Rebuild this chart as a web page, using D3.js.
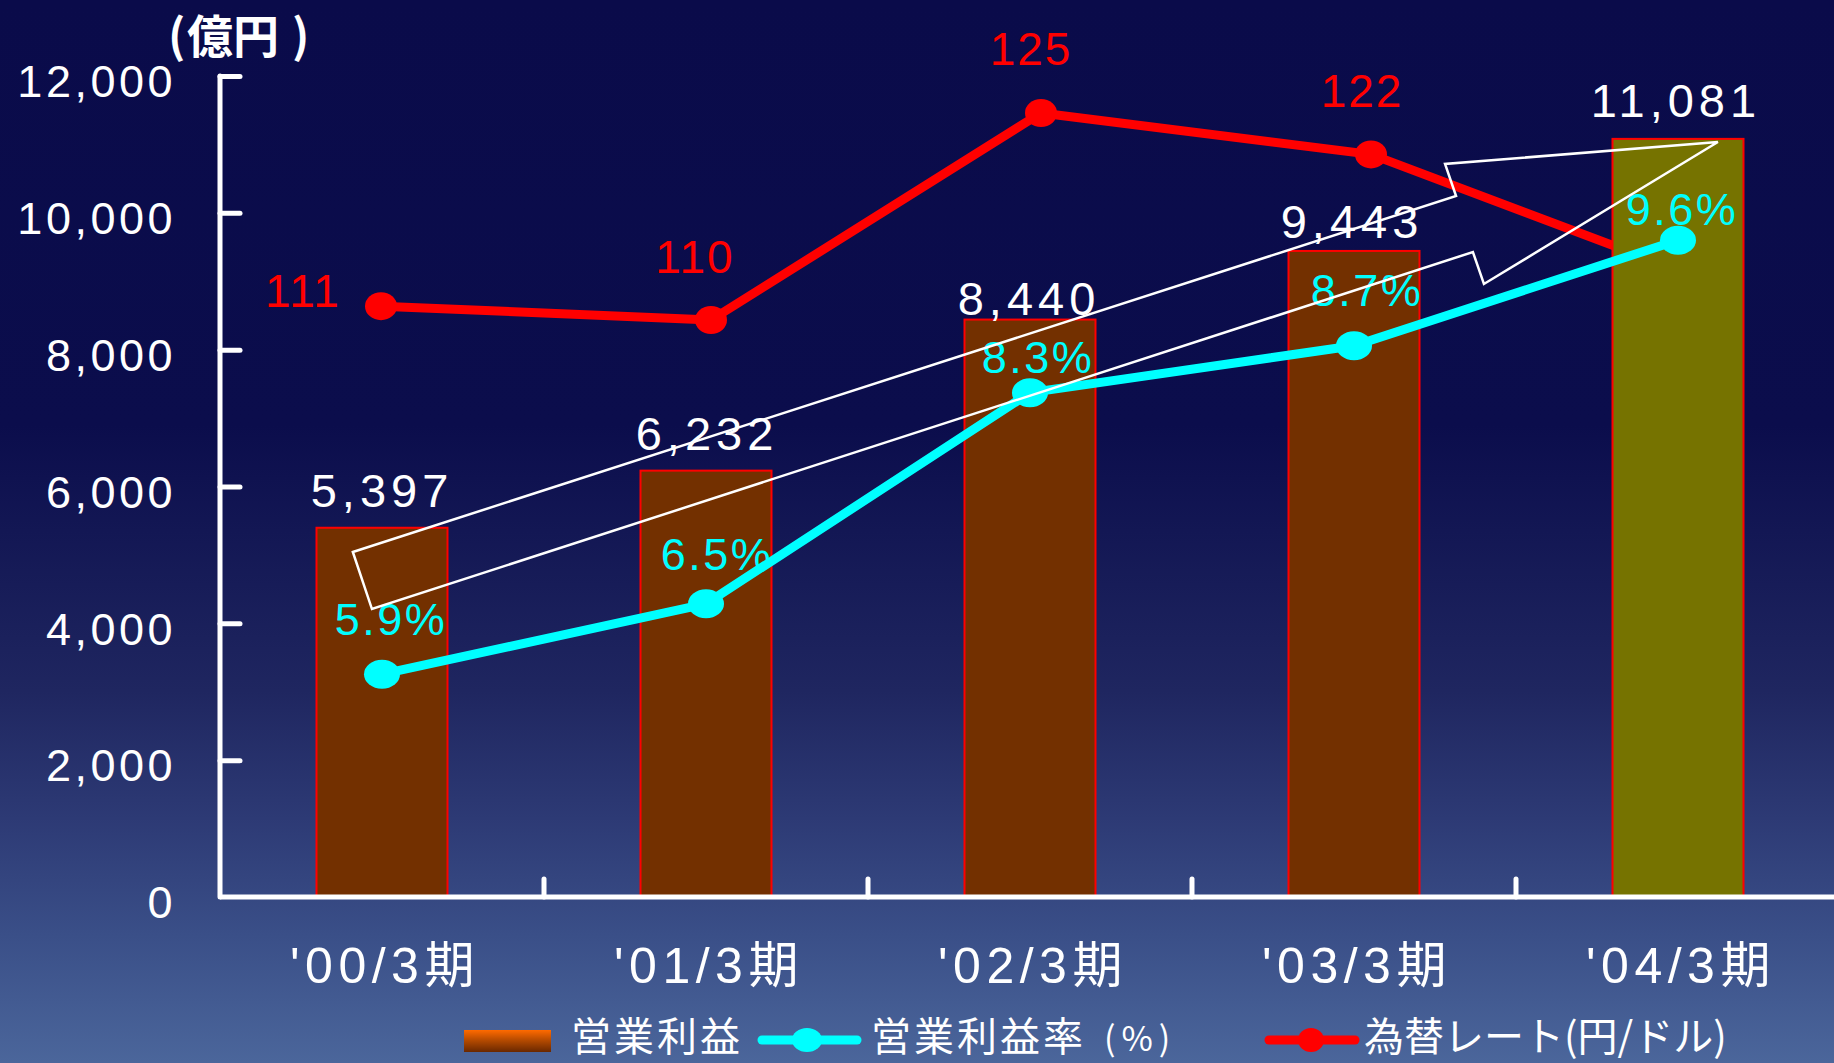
<!DOCTYPE html>
<html>
<head>
<meta charset="utf-8">
<script src="https://cdn.jsdelivr.net/npm/d3@7"></script>
<style>
  html, body { margin: 0; padding: 0; background: #0a0b4a; overflow: hidden; }
  svg { display: block; }
</style>
</head>
<body>
<svg id="chart" width="1834" height="1063"></svg>
<script>
// ---- data ----
const periods = ["'00/3期", "'01/3期", "'02/3期", "'03/3期", "'04/3期"];
const operatingProfit = [5397, 6232, 8440, 9443, 11081];   // 億円
const operatingMargin = [5.9, 6.5, 8.3, 8.7, 9.6];         // %
const exchangeRate = [111, 110, 125, 122, 113];            // 円/ドル
const profitTicks = [0, 2000, 4000, 6000, 8000, 10000, 12000];
const legendLabels = ["営業利益", "営業利益率", "為替レート(円/ドル)"];

// growth arrow outline, in (period index, 億円) coordinates
const growthArrow = [
  [-0.09, 5043], [3.315, 10246], [3.281, 10714], [4.123, 11035],
  [3.401, 8960], [3.367, 9427], [-0.031, 4209]
];

// ---- layout ----
const W = 1834, H = 1063;
const plotLeft = 220, plotBase = 897, plotTop = 76;
const numFont = "'Liberation Sans', Arial, 'Noto Sans CJK JP', sans-serif";
const cjkFont = "'Noto Sans CJK JP', 'Liberation Sans', sans-serif";

// label nudges [dx, dy] relative to the point each label belongs to
const profitLabelShift = [[0, -21], [1, -21], [-1, -5], [-2, -13], [-2, -22]];
const marginLabelShift = [[9, -39], [11, -34], [8, -20], [13, -40], [4, -15]];
const rateLabelShift = [[-78, 1], [-16, -47], [-10, -48], [-9, -47]];

const svg = d3.select("#chart");
const defs = svg.append("defs");

// background
const bg = defs.append("linearGradient").attr("id", "bg")
  .attr("x1", 0).attr("y1", 0).attr("x2", 0).attr("y2", 1);
[[0, "#0a0b4a"], [0.40, "#0b0d4c"], [0.65, "#1f2660"], [0.77, "#2d3a75"], [0.88, "#3a4f88"], [1, "#4b669b"]]
  .forEach(([o, c]) => bg.append("stop").attr("offset", o).attr("stop-color", c));
svg.append("rect").attr("width", W).attr("height", H).attr("fill", "url(#bg)");

// legend swatch gradient
const sw = defs.append("linearGradient").attr("id", "swatch")
  .attr("x1", 0).attr("y1", 0).attr("x2", 0).attr("y2", 1);
[[0, "#ff6a00"], [0.5, "#b04800"], [1, "#6a2800"]]
  .forEach(([o, c]) => sw.append("stop").attr("offset", o).attr("stop-color", c));

// ---- scales ----
const x = d3.scaleBand().domain(periods).range([plotLeft, plotLeft + 5 * 324])
  .paddingInner(0.5957).paddingOuter(0.29785);
const cx = p => x(p) + x.bandwidth() / 2;
const idx = d3.scaleLinear().domain([0, 4]).range([cx(periods[0]), cx(periods[4])]);
const yProfit = d3.scaleLinear().domain([0, 12000]).range([plotBase, plotTop]);
const yMargin = d3.scaleLinear().domain([4, 11]).range([plotBase, plotTop]);
const xRate = d3.scalePoint().domain(periods).range([381, 1701]);
const yRate = d3.scaleLinear().domain([70, 130]).range([872, 44]);

// ---- exchange-rate line (drawn first; the '04 bar covers its tail) ----
const rateData = periods.map((p, i) => ({ p, v: exchangeRate[i], i }));
svg.append("path").datum(rateData)
  .attr("fill", "none").attr("stroke", "#ff0000").attr("stroke-width", 9)
  .attr("stroke-linejoin", "round")
  .attr("d", d3.line().x(d => xRate(d.p)).y(d => yRate(d.v)));
svg.append("g").selectAll("ellipse").data(rateData).join("ellipse")
  .attr("cx", d => xRate(d.p)).attr("cy", d => yRate(d.v))
  .attr("rx", 16).attr("ry", 14).attr("fill", "#ff0000");
// the last rate sits behind the '04 bar, so only the first four are labelled
svg.append("g").selectAll("text").data(rateData.slice(0, 4)).join("text")
  .attr("x", d => xRate(d.p) + rateLabelShift[d.i][0])
  .attr("y", d => yRate(d.v) + rateLabelShift[d.i][1])
  .attr("text-anchor", "middle").attr("fill", "#ff0000")
  .attr("font-family", numFont).attr("font-size", 46).attr("letter-spacing", 2)
  .text(d => d.v);

// ---- operating profit bars ----
const profitData = periods.map((p, i) => ({ p, v: operatingProfit[i], i }));
svg.append("g").selectAll("rect").data(profitData).join("rect")
  .attr("x", d => x(d.p)).attr("width", x.bandwidth())
  .attr("y", d => yProfit(d.v)).attr("height", d => plotBase - yProfit(d.v))
  .attr("fill", d => d.i === 4 ? "#767300" : "#733000")
  .attr("stroke", "#ff0000").attr("stroke-width", 2);
svg.append("g").selectAll("text").data(profitData).join("text")
  .attr("x", d => cx(d.p) + profitLabelShift[d.i][0])
  .attr("y", d => yProfit(d.v) + profitLabelShift[d.i][1])
  .attr("text-anchor", "middle").attr("fill", "#ffffff")
  .attr("font-family", numFont).attr("font-size", 47).attr("letter-spacing", 5)
  .text(d => d3.format(",")(d.v));

// ---- operating margin line ----
const marginData = periods.map((p, i) => ({ p, v: operatingMargin[i], i }));
svg.append("path").datum(marginData)
  .attr("fill", "none").attr("stroke", "#00ffff").attr("stroke-width", 9)
  .attr("stroke-linejoin", "round")
  .attr("d", d3.line().x(d => cx(d.p)).y(d => yMargin(d.v)));
svg.append("g").selectAll("ellipse").data(marginData).join("ellipse")
  .attr("cx", d => cx(d.p)).attr("cy", d => yMargin(d.v))
  .attr("rx", 18).attr("ry", 14.5).attr("fill", "#00ffff");
svg.append("g").selectAll("text").data(marginData).join("text")
  .attr("x", d => cx(d.p) + marginLabelShift[d.i][0])
  .attr("y", d => yMargin(d.v) + marginLabelShift[d.i][1])
  .attr("text-anchor", "middle").attr("fill", "#00ffff")
  .attr("font-family", numFont).attr("font-size", 45).attr("letter-spacing", 2.5)
  .text(d => d.v.toFixed(1) + "%");

// ---- growth arrow ----
svg.append("path").datum(growthArrow)
  .attr("fill", "none").attr("stroke", "#ffffff").attr("stroke-width", 2.5)
  .attr("stroke-linejoin", "miter")
  .attr("d", d3.line().x(d => idx(d[0])).y(d => yProfit(d[1])).curve(d3.curveLinearClosed));

// ---- axes ----
const yAxis = svg.append("g").attr("transform", `translate(${plotLeft},0)`)
  .call(d3.axisLeft(yProfit).tickValues(profitTicks).tickFormat(d3.format(","))
    .tickSizeInner(-20).tickSizeOuter(0).tickPadding(44));
yAxis.select(".domain").remove();
yAxis.selectAll(".tick line").filter(d => d === 0).remove();
yAxis.selectAll(".tick line").attr("stroke", "#ffffff").attr("stroke-width", 5)
  .attr("stroke-linecap", "round");
yAxis.selectAll(".tick text").attr("fill", "#ffffff").attr("font-family", numFont)
  .attr("font-size", 45).attr("letter-spacing", 3.5).attr("dy", "0.46em");

// vertical axis line
svg.append("line").attr("x1", plotLeft).attr("x2", plotLeft)
  .attr("y1", yProfit(12000)).attr("y2", plotBase)
  .attr("stroke", "#ffffff").attr("stroke-width", 5).attr("stroke-linecap", "round");

// category axis
const xAxis = svg.append("g").attr("transform", `translate(0,${plotBase})`)
  .call(d3.axisBottom(x).tickSize(0).tickPadding(86));
xAxis.select(".domain").remove();
xAxis.selectAll(".tick text").attr("fill", "#ffffff").attr("font-family", numFont)
  .attr("font-size", 50).attr("letter-spacing", 5.5).attr("dy", 0).attr("dx", 3);
svg.append("line").attr("x1", plotLeft).attr("x2", W)
  .attr("y1", plotBase).attr("y2", plotBase)
  .attr("stroke", "#ffffff").attr("stroke-width", 5);
// boundary ticks between periods
const gap = x.step() * x.paddingInner() / 2;
svg.append("g").selectAll("line").data(periods.slice(1)).join("line")
  .attr("x1", p => x(p) - gap).attr("x2", p => x(p) - gap)
  .attr("y1", plotBase).attr("y2", plotBase - 18)
  .attr("stroke", "#ffffff").attr("stroke-width", 5).attr("stroke-linecap", "round");

// unit title
const unit = svg.append("text").attr("y", 53).attr("fill", "#ffffff")
  .attr("font-family", cjkFont).attr("font-size", 46).attr("font-weight", "bold");
unit.append("tspan").attr("x", 168).text("(");
unit.append("tspan").attr("x", 187).text("億円");
unit.append("tspan").attr("x", 292).text(")");

// ---- legend ----
const lg = svg.append("g").attr("font-family", cjkFont).attr("font-size", 40)
  .attr("fill", "#ffffff").attr("letter-spacing", 3);
lg.append("rect").attr("x", 464).attr("y", 1030).attr("width", 87).attr("height", 22)
  .attr("fill", "url(#swatch)");
lg.append("text").attr("x", 571).attr("y", 1051).text(legendLabels[0]);

lg.append("line").attr("x1", 762).attr("x2", 857).attr("y1", 1040).attr("y2", 1040)
  .attr("stroke", "#00ffff").attr("stroke-width", 9).attr("stroke-linecap", "round");
lg.append("ellipse").attr("cx", 807).attr("cy", 1040).attr("rx", 15).attr("ry", 12)
  .attr("fill", "#00ffff");
const t2 = lg.append("text").attr("x", 871).attr("y", 1051);
t2.append("tspan").text(legendLabels[1]);
t2.append("tspan").attr("dx", 18).attr("font-size", 34).attr("letter-spacing", 6).text("(%)");

lg.append("line").attr("x1", 1269).attr("x2", 1355).attr("y1", 1040).attr("y2", 1040)
  .attr("stroke", "#ff0000").attr("stroke-width", 9).attr("stroke-linecap", "round");
lg.append("ellipse").attr("cx", 1311).attr("cy", 1040).attr("rx", 13).attr("ry", 12)
  .attr("fill", "#ff0000");
lg.append("text").attr("x", 1364).attr("y", 1051).attr("letter-spacing", 0).text(legendLabels[2]);
</script>
</body>
</html>
